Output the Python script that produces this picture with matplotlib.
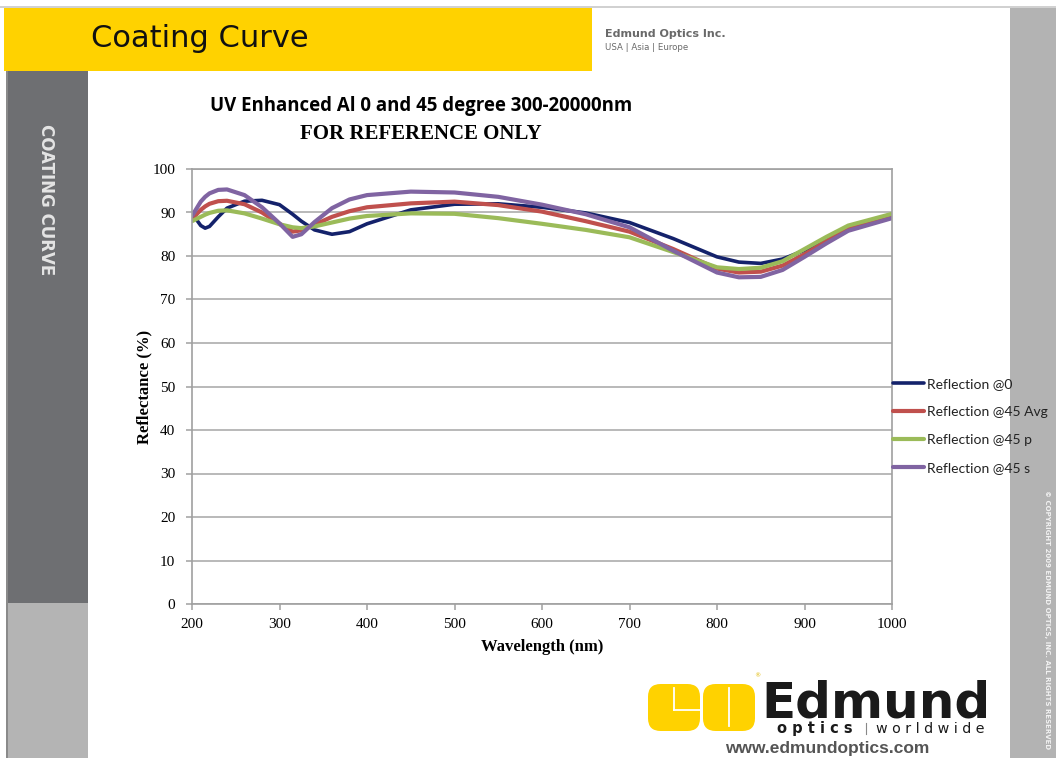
import matplotlib.pyplot as plt
from matplotlib.patches import Rectangle, FancyBboxPatch
from matplotlib.lines import Line2D

# wavelength grid (nm) and reflectance (%)
wavelength = [200, 210, 215, 220, 230, 240, 260, 280, 300, 315, 325, 340, 360,
              380, 400, 450, 500, 550, 600, 650, 700, 750, 800, 825, 850, 875,
              900, 925, 950, 1000]
refl_0 = [89.8, 87.0, 86.4, 86.8, 89.0, 91.0, 92.6, 92.8, 91.8, 89.6, 88.0,
          86.0, 85.0, 85.6, 87.4, 90.6, 91.9, 92.0, 91.2, 89.9, 87.7, 84.0,
          79.8, 78.6, 78.3, 79.3, 81.3, 83.6, 86.4, 88.8]
refl_45_avg = [88.5, 90.6, 91.4, 92.0, 92.6, 92.7, 91.9, 90.0, 87.4, 85.6,
               85.9, 87.2, 89.0, 90.3, 91.2, 92.1, 92.5, 91.7, 90.2, 88.0,
               85.6, 81.6, 77.1, 76.2, 76.4, 77.8, 80.4, 83.4, 86.2, 89.2]
refl_45_p = [88.0, 89.0, 89.5, 89.9, 90.4, 90.5, 89.8, 88.6, 87.3, 86.6, 86.4,
             86.8, 87.7, 88.6, 89.2, 89.8, 89.7, 88.7, 87.4, 86.0, 84.3, 80.9,
             77.4, 77.0, 77.3, 78.8, 81.6, 84.4, 87.0, 89.7]
refl_45_s = [89.2, 92.5, 93.6, 94.4, 95.2, 95.3, 94.0, 91.2, 87.5, 84.4,
             85.0, 87.8, 91.0, 93.0, 94.0, 94.8, 94.6, 93.6, 91.8, 89.6,
             86.6, 81.2, 76.2, 75.1, 75.2, 76.8, 79.8, 82.9, 85.8, 88.7]

series_labels = ["Reflection @0", "Reflection @45 Avg", "Reflection @45 p", "Reflection @45 s"]
series_colors = ["#14226B", "#C0504D", "#9BBB59", "#8064A2"]
series_widths = [2.6, 3.0, 3.0, 3.0]

W, H = 1056, 758
fig = plt.figure(figsize=(W / 100, H / 100), dpi=100)


def px_rect(x0, y0, x1, y1, color):
    # rectangle in pixel coords (origin top-left), kept under the chart
    fig.patches.append(Rectangle((x0 / W, 1 - y1 / H), (x1 - x0) / W, (y1 - y0) / H,
                                 transform=fig.transFigure, facecolor=color,
                                 edgecolor="none", zorder=-1))


def px_text(x, y, s, **kw):
    fig.text(x / W, 1 - y / H, s, **kw)


# page frame
fig.add_artist(Line2D([0, 1], [1 - 7 / H, 1 - 7 / H], transform=fig.transFigure,
                      color="#C8C8C8", lw=1.2))
px_rect(4, 8, 592, 71, "#FFD200")
px_rect(1010, 8, W, H, "#B3B3B3")
px_rect(7, 71, 88, 603, "#6E6F72")
px_rect(7, 603, 88, H, "#B4B4B4")
px_rect(6, 71, 8, H, "#8A8A8A")

px_text(91, 47, "Coating Curve", fontsize=22, family="DejaVu Sans",
        color="#111111", va="baseline")
px_text(605, 34, "Edmund Optics Inc.", fontsize=8, fontweight="bold",
        family="DejaVu Sans", color="#6A6A6A", va="center")
px_text(605, 48, "USA | Asia | Europe", fontsize=6.2, family="DejaVu Sans",
        color="#6A6A6A", va="center")
px_text(46, 200, "COATING CURVE", fontsize=12, fontweight="bold",
        family="DejaVu Sans", color="#E4E4E4", rotation=-90,
        ha="center", va="center")
px_text(1047, 620, "\u00a9 COPYRIGHT 2009 EDMUND OPTICS, INC. ALL RIGHTS RESERVED",
        fontsize=5, fontweight="bold", family="DejaVu Sans",
        color="#F2F2F2", rotation=-90, ha="center", va="center")

# chart area
ax = fig.add_axes([192 / W, 1 - 604 / H, 700 / W, 435 / H])
ax.set_zorder(3)
ax.patch.set_alpha(0)
data = [refl_0, refl_45_avg, refl_45_p, refl_45_s]
for vals, lab, col, lw in zip(data, series_labels, series_colors, series_widths):
    ax.plot(wavelength, vals, color=col, lw=lw, label=lab, solid_capstyle="round")

ax.set_xlim(200, 1000)
ax.set_ylim(0, 100)
ax.set_xticks(range(200, 1001, 100))
ax.set_yticks(range(0, 101, 10))
ax.yaxis.grid(True, color="#A6A6A6", lw=1.1)
ax.set_axisbelow(True)
for sp in ax.spines.values():
    sp.set_color("#A0A0A0")
    sp.set_linewidth(1.2)
ax.tick_params(colors="#A0A0A0", labelcolor="black", length=4, width=1.1,
               labelsize=11)
for lab in ax.get_xticklabels() + ax.get_yticklabels():
    lab.set_family("Liberation Serif")
ax.tick_params(axis="x", pad=6)
ax.tick_params(axis="y", pad=8)
ax.set_xlabel("Wavelength (nm)", family="Liberation Serif", fontweight="bold",
              fontsize=12, labelpad=6)
ax.set_ylabel("Reflectance (%)", family="Liberation Serif", fontweight="bold",
              fontsize=12, labelpad=0)

leg = ax.legend(loc="center left", bbox_to_anchor=(1.002, 0.41), frameon=False,
                prop={"family": "Lato", "size": 10},
                handlelength=2.2, handletextpad=0.2, labelspacing=1.15,
                borderaxespad=0, borderpad=0)
for t in leg.get_texts():
    t.set_color("#222222")

px_text(421, 106, "UV Enhanced Al 0 and 45 degree 300-20000nm", fontsize=13.4,
        fontweight="bold", family="Open Sans", ha="center", va="center")
px_text(421, 134, "FOR REFERENCE ONLY", fontsize=15, fontweight="bold",
        family="Liberation Serif", ha="center", va="center")

# logo at the bottom
yel = "#FFD200"
for x0, x1 in [(648, 700), (703, 755)]:
    fig.patches.append(FancyBboxPatch((x0 / W, 1 - 731 / H), (x1 - x0) / W, 47 / H,
                                      boxstyle="round,pad=0,rounding_size=0.012",
                                      transform=fig.transFigure, facecolor=yel,
                                      edgecolor="none", mutation_aspect=W / H))
for xs, ys in [([674, 674], [688, 710]), ([674, 700], [710, 710]), ([729, 729], [688, 726])]:
    fig.add_artist(Line2D([x / W for x in xs], [1 - y / H for y in ys],
                          transform=fig.transFigure, color="white", lw=1.3))
fig.add_artist(Line2D([866 / W, 866 / W], [1 - 723 / H, 1 - 734 / H],
                      transform=fig.transFigure, color="#888888", lw=0.8))
px_text(754, 676, "\u00ae", fontsize=4.5, color="#E0B800", va="center")
px_text(761, 717, "Edmund", fontsize=36, fontweight="bold", family="DejaVu Sans",
        color="#1A1A1A", va="baseline")
px_text(777, 733, "o p t i c s", fontsize=10.5, fontweight="bold", family="DejaVu Sans",
        color="#1A1A1A", va="baseline")
px_text(876, 733, "w o r l d w i d e", fontsize=10.3, family="DejaVu Sans",
        color="#1A1A1A", va="baseline")
px_text(827, 748, "www.edmundoptics.com", fontsize=12.5, fontweight="bold",
        family="Liberation Sans", color="#555555", ha="center", va="center")

fig.savefig("out.png", dpi=100)
